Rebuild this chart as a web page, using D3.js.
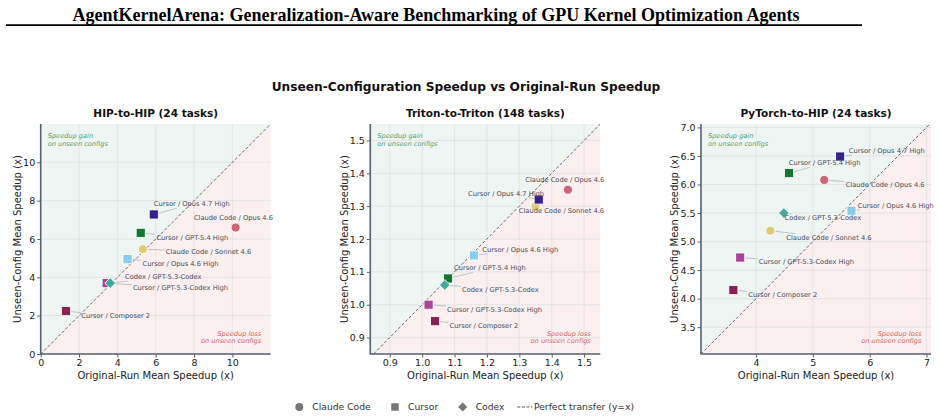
<!DOCTYPE html>
<html>
<head>
<meta charset="utf-8">
<script src="https://cdn.jsdelivr.net/npm/d3@7"></script>
<style>
    body { margin: 0; background: #fff; }
    svg { display: block; font-family: "DejaVu Sans", sans-serif; }
</style>
</head>
<body>
<svg id="drawing_region"></svg>
<script>
// agents, in drawing order (circles, then squares, then the diamond)
const agents = ['Claude Code / Opus 4.6', 'Claude Code / Sonnet 4.6', 'Cursor / Opus 4.7 High',
    'Cursor / GPT-5.4 High', 'Cursor / Opus 4.6 High', 'Cursor / GPT-5.3-Codex High',
    'Cursor / Composer 2', 'Codex / GPT-5.3-Codex'];
const harness = ['Claude Code', 'Claude Code', 'Cursor', 'Cursor', 'Cursor', 'Cursor', 'Cursor', 'Codex'];

// mean speedups
const hipOriginal = [10.17, 5.33, 5.90, 5.22, 4.53, 3.44, 1.32, 3.63];
const hipUnseen = [6.60, 5.47, 7.28, 6.32, 4.95, 3.70, 2.24, 3.70];
const tritonOriginal = [1.45, 1.35, 1.36, 1.08, 1.16, 1.02, 1.04, 1.07];
const tritonUnseen = [1.35, 1.30, 1.32, 1.08, 1.15, 1.00, 0.95, 1.06];
const torchOriginal = [5.20, 4.25, 5.48, 4.58, 5.68, 3.72, 3.60, 4.49];
const torchUnseen = [6.08, 5.19, 6.49, 6.20, 5.54, 4.72, 4.15, 5.50];

const hipTicks = [0, 2, 4, 6, 8, 10];
const tritonTicks = [0.9, 1.0, 1.1, 1.2, 1.3, 1.4, 1.5];
const torchXTicks = [4, 5, 6, 7];
const torchYTicks = [3.5, 4.0, 4.5, 5.0, 5.5, 6.0, 6.5, 7.0];

const legendItems = ['Claude Code', 'Cursor', 'Codex', 'Perfect transfer (y=x)'];

// styling
const agentColors = ['#cc6677', '#ddcc77', '#332288', '#117733', '#88ccee', '#aa4499', '#882255', '#44aa99'];
const harnessSymbol = { 'Claude Code': 'circle', 'Cursor': 'square', 'Codex': 'diamond' };

// label nudges (px, from marker centre to label start / middle)
const hipNudge = [[-41.7, -10], [23, 2.3], [0, -10.6], [15.7, 5], [15, 4.3], [26.3, 4.7], [15.3, 5], [14.7, -6.3]];
const tritonNudge = [[-42.6, -10], [-16.7, 4.3], [-70.7, -6], [6, -10.3], [8.3, -6], [18.4, 4.6], [14.4, 4.7], [17.3, 4.7]];
const torchNudge = [[21.4, 4.7], [16, 6.6], [8.7, -5.7], [-0.3, -10], [6.3, -5.3], [18.6, 4.6], [15, 4.7], [0.7, 4.7]];

const W = 941, H = 418;
const svg = d3.select('#drawing_region').attr('width', W).attr('height', H);

function symbolPath(kind) {
    if (kind === 'circle') return d3.symbol(d3.symbolCircle, 66)();
    if (kind === 'square') return d3.symbol(d3.symbolSquare, 84)();
    return d3.symbol(d3.symbolSquare, 58)();
}

class scatterPanel {

    constructor(config, xs, ys) {
        this.config = config;
        this.xs = xs;
        this.ys = ys;
        this.init();
    }

    init() {
        let self = this;
        const c = self.config;
        self.chart = svg.append('g')
            .attr('transform', `translate(${c.left}, ${c.top})`);

        self.xscale = d3.scaleLinear().domain(c.xdomain).range([0, c.size]);
        self.yscale = d3.scaleLinear().domain(c.ydomain).range([c.size, 0]);

        self.clipId = 'clip-' + c.id;
        self.chart.append('clipPath').attr('id', self.clipId)
            .append('rect').attr('width', c.size).attr('height', c.size);
    }

    render() {
        let self = this;
        const c = self.config;
        const xs = self.xscale, ys = self.yscale;
        const lo = Math.min(c.xdomain[0], c.ydomain[0]);
        const hi = Math.max(c.xdomain[1], c.ydomain[1]);

        const plot = self.chart.append('g').attr('clip-path', `url(#${self.clipId})`);
        const poly = d3.line().x(d => xs(d[0])).y(d => ys(d[1]));
        plot.append('path').attr('d', poly([[lo, lo], [lo, hi], [hi, hi]]) + 'Z').attr('fill', '#eff5f2');
        plot.append('path').attr('d', poly([[lo, lo], [hi, lo], [hi, hi]]) + 'Z').attr('fill', '#fbf0ef');

        // grid
        plot.selectAll('.gx').data(c.xticks).join('line')
            .attr('x1', d => xs(d)).attr('x2', d => xs(d))
            .attr('y1', 0).attr('y2', c.size)
            .attr('stroke', '#dfe1e4').attr('stroke-width', 0.8);
        plot.selectAll('.gy').data(c.yticks).join('line')
            .attr('y1', d => ys(d)).attr('y2', d => ys(d))
            .attr('x1', 0).attr('x2', c.size)
            .attr('stroke', '#dfe1e4').attr('stroke-width', 0.8);

        // perfect transfer line
        plot.append('path').attr('d', poly([[lo, lo], [hi, hi]]))
            .attr('stroke', '#555').attr('stroke-width', 0.9)
            .attr('stroke-dasharray', '3,2').attr('fill', 'none');

        // region notes
        const note = self.chart.append('g').attr('font-style', 'italic').attr('font-size', 6.6);
        note.append('text').attr('x', 7).attr('y', 12).attr('dy', '0.35em')
            .attr('fill', '#4f9e6e').text('Speedup gain');
        note.append('text').attr('x', 7).attr('y', 20).attr('dy', '0.35em')
            .attr('fill', '#4f9e6e').text('on unseen configs');
        note.append('text').attr('x', c.size - 9.5).attr('y', c.size - 20.7).attr('dy', '0.35em')
            .attr('text-anchor', 'end').attr('fill', '#d9625e').text('Speedup loss');
        note.append('text').attr('x', c.size - 9.5).attr('y', c.size - 13).attr('dy', '0.35em')
            .attr('text-anchor', 'end').attr('fill', '#d9625e').text('on unseen configs');

        // leader lines, markers, labels
        const lines = self.chart.append('g');
        const marks = self.chart.append('g');
        const labels = self.chart.append('g').attr('font-size', 6.7).attr('fill', '#444c5a');

        agents.forEach((name, i) => {
            const px = xs(self.xs[i]), py = ys(self.ys[i]);
            marks.append('path')
                .attr('d', symbolPath(harnessSymbol[harness[i]]))
                .attr('transform', `translate(${px},${py})` + (harness[i] === 'Codex' ? ' rotate(45)' : ''))
                .attr('fill', agentColors[i])
                .attr('stroke', '#fff').attr('stroke-width', 0.9);
            const t = labels.append('text')
                .attr('x', px + c.nudge[i][0]).attr('y', py + c.nudge[i][1])
                .attr('dy', '0.35em').text(name);
            const b = t.node().getBBox();
            const bx0 = b.x - 1, by0 = b.y, bx1 = b.x + b.width + 1, by1 = b.y + b.height;
            const cx = (bx0 + bx1) / 2, cy = (by0 + by1) / 2;
            const vx = px - cx, vy = py - cy;
            let tExit = Infinity;
            if (vx !== 0) tExit = Math.min(tExit, ((vx > 0 ? bx1 : bx0) - cx) / vx);
            if (vy !== 0) tExit = Math.min(tExit, ((vy > 0 ? by1 : by0) - cy) / vy);
            if (tExit >= 1) return;
            const ex = cx + vx * tExit, ey = cy + vy * tExit;
            const len = Math.hypot(px - ex, py - ey);
            if (len < 7) return;
            const sx = px + (ex - px) * 5 / len, sy = py + (ey - py) * 5 / len;
            lines.append('line')
                .attr('x1', sx).attr('y1', sy).attr('x2', ex).attr('y2', ey)
                .attr('stroke', '#b3b7bd').attr('stroke-width', 0.8);
        });

        // axes
        const xaxis = d3.axisBottom(xs).tickValues(c.xticks).tickFormat(c.xformat).tickSize(3.5).tickPadding(2);
        const yaxis = d3.axisLeft(ys).tickValues(c.yticks).tickFormat(c.yformat).tickSize(3.5).tickPadding(2);
        const gx = self.chart.append('g').attr('transform', `translate(0, ${c.size})`).call(xaxis);
        const gy = self.chart.append('g').call(yaxis);
        [gx, gy].forEach(g => {
            g.select('.domain').remove();
            g.selectAll('.tick line').attr('stroke', '#333').attr('stroke-width', 0.8);
            g.selectAll('.tick text').attr('fill', '#222').attr('font-size', 9.5)
                .attr('font-family', '"DejaVu Sans", sans-serif');
        });
        self.chart.append('path')
            .attr('d', `M0,0V${c.size}H${c.size}`)
            .attr('fill', 'none').attr('stroke', '#55626f').attr('stroke-width', 1.6);

        self.chart.append('text')
            .attr('x', c.size / 2).attr('y', c.size + 21).attr('dy', '0.35em')
            .attr('text-anchor', 'middle').attr('font-size', 10).attr('fill', '#222')
            .text('Original-Run Mean Speedup (x)');
        self.chart.append('text')
            .attr('transform', `translate(${-c.ylabelGap}, ${c.size / 2}) rotate(-90)`)
            .attr('dy', '0.35em')
            .attr('text-anchor', 'middle').attr('font-size', 10).attr('fill', '#222')
            .text('Unseen-Config Mean Speedup (x)');
        self.chart.append('text')
            .attr('x', c.size / 2).attr('y', -11).attr('dy', '0.35em')
            .attr('text-anchor', 'middle').attr('font-size', 10.5).attr('font-weight', 'bold')
            .attr('fill', '#111').text(c.title);
    }

}

// page header
svg.append('text')
    .attr('x', 72.5).attr('y', 20.5)
    .attr('font-family', '"Liberation Serif", serif').attr('font-weight', 'bold')
    .attr('font-size', 19.5).attr('textLength', 727).attr('lengthAdjust', 'spacingAndGlyphs')
    .attr('fill', '#000')
    .text('AgentKernelArena: Generalization-Aware Benchmarking of GPU Kernel Optimization Agents');
svg.append('line').attr('x1', 6).attr('x2', 862).attr('y1', 25.2).attr('y2', 25.2)
    .attr('stroke', '#000').attr('stroke-width', 1.8);

svg.append('text')
    .attr('x', 466).attr('y', 87).attr('dy', '0.35em')
    .attr('text-anchor', 'middle').attr('font-size', 12.2).attr('font-weight', 'bold').attr('fill', '#111')
    .text('Unseen-Configuration Speedup vs Original-Run Speedup');

const intFmt = d3.format('d'), oneDec = d3.format('.1f');
const panels = [
    new scatterPanel({ id: 'hip', title: 'HIP-to-HIP (24 tasks)', left: 40.7, top: 124, size: 230,
        xdomain: [0, 12], ydomain: [0, 12], xticks: hipTicks, yticks: hipTicks,
        xformat: intFmt, yformat: intFmt, nudge: hipNudge, ylabelGap: 23.5 }, hipOriginal, hipUnseen),
    new scatterPanel({ id: 'triton', title: 'Triton-to-Triton (148 tasks)', left: 370.3, top: 124, size: 230,
        xdomain: [0.84, 1.55], ydomain: [0.85, 1.55], xticks: tritonTicks, yticks: tritonTicks,
        xformat: oneDec, yformat: oneDec, nudge: tritonNudge, ylabelGap: 26 }, tritonOriginal, tritonUnseen),
    new scatterPanel({ id: 'torch', title: 'PyTorch-to-HIP (24 tasks)', left: 701, top: 124, size: 230,
        xdomain: [3.03, 7.08], ydomain: [3.03, 7.06], xticks: torchXTicks, yticks: torchYTicks,
        xformat: intFmt, yformat: oneDec, nudge: torchNudge, ylabelGap: 27 }, torchOriginal, torchUnseen)
];
panels.forEach(p => p.render());

// legend
const legend = svg.append('g').attr('font-size', 9.2).attr('fill', '#333');
const legendX = [299.3, 395, 462.7, 517.3];
legendItems.forEach((name, i) => {
    const g = legend.append('g').attr('transform', `translate(${legendX[i]}, 407)`);
    if (i < 3) {
        const kind = harnessSymbol[name];
        g.append('path').attr('d', kind === 'circle' ? d3.symbol(d3.symbolCircle, 50)() :
                kind === 'square' ? d3.symbol(d3.symbolSquare, 56)() : d3.symbol(d3.symbolSquare, 42)())
            .attr('transform', kind === 'diamond' ? 'rotate(45)' : null)
            .attr('fill', '#777');
        g.append('text').attr('x', 13).attr('dy', '0.35em').text(name);
    } else {
        g.append('line').attr('x1', 0).attr('x2', 15).attr('stroke', '#555')
            .attr('stroke-width', 1).attr('stroke-dasharray', '3,1.6');
        g.append('text').attr('x', 16.7).attr('dy', '0.35em').text(name);
    }
});
</script>
</body>
</html>
